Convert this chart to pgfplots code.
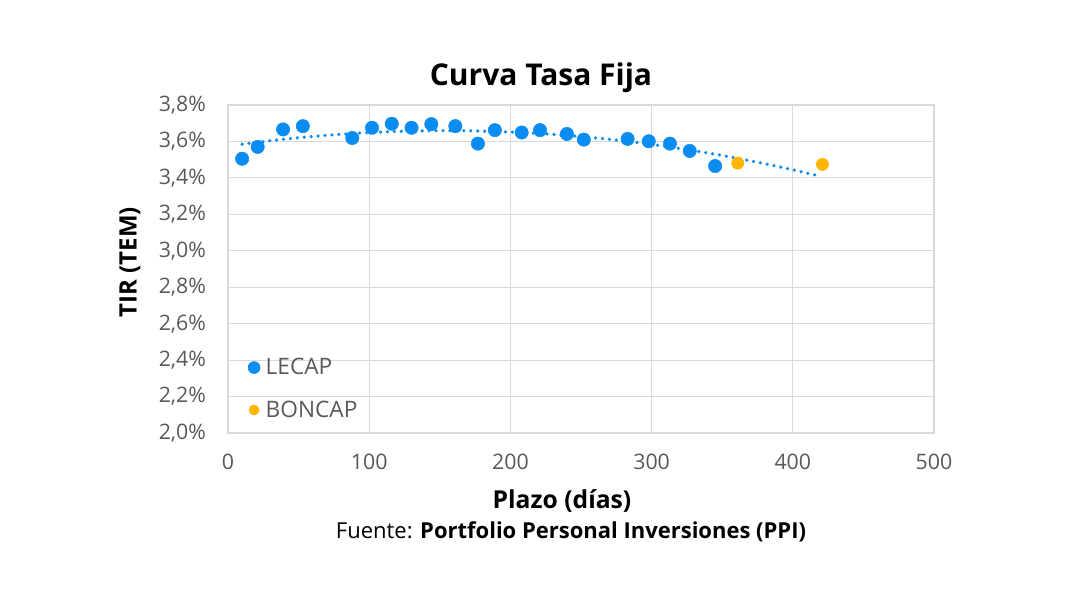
\documentclass[border=0pt]{standalone}
\usepackage{pgfplots}
\pgfplotsset{compat=1.18}
\usepackage{fontspec}
\setmainfont{Open Sans}
\definecolor{lblue}{RGB}{10,140,240}
\definecolor{lorange}{RGB}{255,182,0}
\definecolor{gridgray}{RGB}{217,217,217}
\definecolor{ticktext}{RGB}{89,89,89}
\begin{document}
\begin{tikzpicture}
\begin{scope}[x=0.75pt,y=-0.75pt]
\path (0,0) rectangle (1080,602);
\node[font=\bfseries\fontsize{22.5}{26}\selectfont] at (541,78) {Curva Tasa Fija};
\node[font=\bfseries\fontsize{18}{21}\selectfont,rotate=90] at (130,262) {TIR (TEM)};
\node[font=\bfseries\fontsize{18.5}{21}\selectfont] at (562,501) {Plazo (días)};
\node[font=\fontsize{16.5}{19}\selectfont] at (571,532) {Fuente: \textbf{Portfolio Personal Inversiones (PPI)}};
\end{scope}
\begin{axis}[
  at={(171pt,-78.75pt)}, anchor=north west,
  scale only axis, width=529.5pt, height=246pt,
  xmin=0, xmax=500, ymin=2.0, ymax=3.8,
  xtick={0,100,200,300,400,500},
  ytick={2.0,2.2,2.4,2.6,2.8,3.0,3.2,3.4,3.6,3.8},
  yticklabel={\pgfmathprintnumber{\tick}\%},
  /pgf/number format/.cd, fixed, fixed zerofill, precision=1, use comma, assume math mode=true,
  /pgfplots/.cd,
  xticklabel={\pgfmathprintnumber[precision=0,fixed zerofill=false]{\tick}},
  tick label style={font=\fontsize{16}{18}\selectfont, text=ticktext},
  major tick length=0pt,
  grid=major, grid style={gridgray, line width=0.9pt},
  axis line style={gridgray, line width=0.9pt},
  xticklabel shift=12.5pt, yticklabel shift=13pt,
  legend style={at={(0.022,0.025)}, anchor=south west, draw=none, fill=none,
    font=\fontsize{17}{19}\selectfont, text=ticktext, row sep=14pt,
    /tikz/every odd column/.append style={column sep=2pt}},
  legend cell align=left,
]
\addplot[only marks, mark=*, mark size=5pt, draw=lblue, fill=lblue,
  legend image code/.code={\fill[lblue] (0.15cm,0cm) circle (4.5pt);}]
coordinates {
(10,3.505) (21,3.570) (39,3.666) (53,3.684) (88,3.619) (102,3.675) (116,3.697)
(130,3.675) (144,3.695) (161,3.684) (177,3.588) (189,3.662) (208,3.649) (221,3.662)
(240,3.641) (252,3.610) (283,3.614) (298,3.601) (313,3.588) (327,3.548) (345,3.465)
};
\addlegendentry{LECAP}
\addplot[only marks, mark=*, mark size=4.6pt, draw=lorange, fill=lorange,
  legend image code/.code={\fill[lorange] (0.15cm,0cm) circle (3.8pt);}]
coordinates {(361,3.481) (421,3.474)};
\addlegendentry{BONCAP}
\addplot[forget plot, lblue, line width=2.7pt, line cap=round, dash pattern=on 0.01pt off 5.2pt]
coordinates {
(10,3.5849) (30,3.6041) (50,3.6205) (70,3.6339) (90,3.6445) (110,3.6523) (130,3.6573)
(150,3.6593) (170,3.6585) (190,3.6548) (210,3.6484) (230,3.6390) (250,3.6268)
(270,3.6118) (290,3.5939) (310,3.5731) (330,3.5495) (350,3.5231) (370,3.4937)
(390,3.4616) (410,3.4265) (420,3.4079)
};
\end{axis}
\end{tikzpicture}
\end{document}
